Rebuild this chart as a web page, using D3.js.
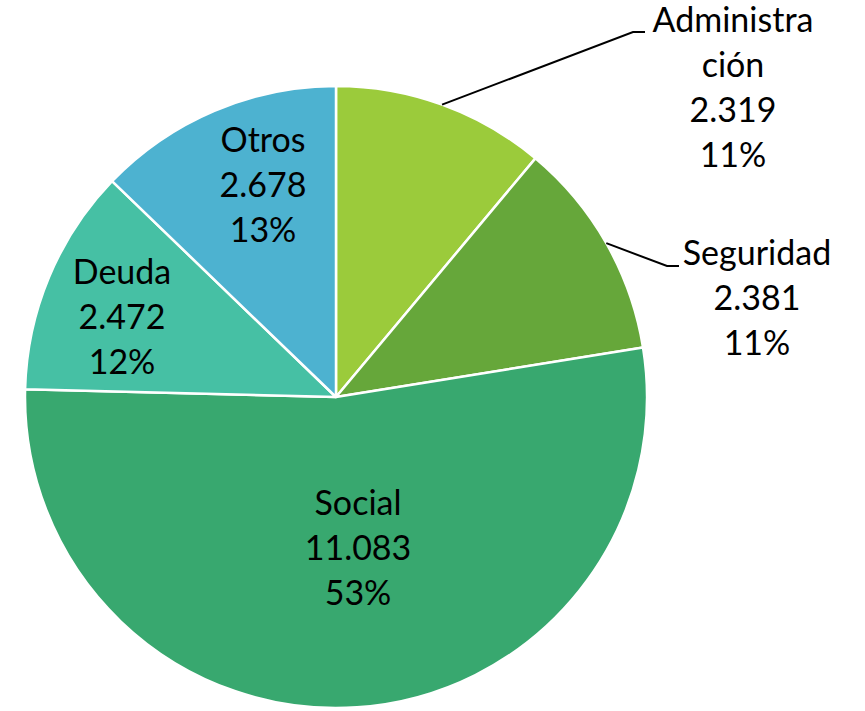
<!DOCTYPE html>
<html><head><meta charset="utf-8">
<script src="https://cdn.jsdelivr.net/npm/d3@7"></script>
<style>html,body{margin:0;padding:0;background:#fff;}svg{display:block;}</style>
</head><body>
<svg id="chart" width="865" height="711"></svg>
<script>
const categories = ["Administración", "Seguridad", "Social", "Deuda", "Otros"];
const values = [2.319, 2.381, 11.083, 2.472, 2.678];
const percents = ["11%", "11%", "53%", "12%", "13%"];
const valueLabels = ["2.319", "2.381", "11.083", "2.472", "2.678"];
const nameLines = [["Administra", "ción"], ["Seguridad"], ["Social"], ["Deuda"], ["Otros"]];
const colors = ["#9BCB3B", "#66A73A", "#38A86F", "#46C0A4", "#4DB2D0"];

// layout (first-line baseline of each label block relative to pie centre)
const cx = 336, cy = 397, R = 311;
const labelCenter = [[397, -365], [421, -132], [22, 118], [-214, -113], [-73, -245]];
const outside = [true, true, false, false, false];
const elbow = [[297, -365], [331, -131]];
const elbowLen = 12;
const lineH = 45;

const svg = d3.select("#chart");
const g = svg.append("g").attr("transform", `translate(${cx},${cy})`);
const pie = d3.pie().sort(null).value(d => d)(values);
const arc = d3.arc().innerRadius(0).outerRadius(R);

g.selectAll("path.slice").data(pie).join("path")
  .attr("class", "slice")
  .attr("d", arc)
  .attr("fill", (d, i) => colors[i])
  .attr("stroke", "#fff").attr("stroke-width", 2.5).attr("stroke-linejoin", "round");

pie.forEach((d, i) => {
  if (!outside[i]) return;
  const a = (d.startAngle + d.endAngle) / 2;
  const p0 = [Math.sin(a) * R, -Math.cos(a) * R];
  const e = elbow[i];
  g.append("polyline")
    .attr("points", [p0, e, [e[0] + elbowLen, e[1]]].map(p => p.join(",")).join(" "))
    .attr("fill", "none").attr("stroke", "#000").attr("stroke-width", 2);
});

pie.forEach((d, i) => {
  const lines = nameLines[i].concat([valueLabels[i], percents[i]]);
  const t = g.append("text")
    .attr("text-anchor", "middle")
    .attr("font-family", "Lato, 'Open Sans', sans-serif")
    .attr("font-size", 34)
    .attr("fill", "#000");
  lines.forEach((ln, k) => {
    t.append("tspan").attr("x", labelCenter[i][0]).attr("y", labelCenter[i][1] + k * lineH).text(ln);
  });
});
</script>
</body></html>
